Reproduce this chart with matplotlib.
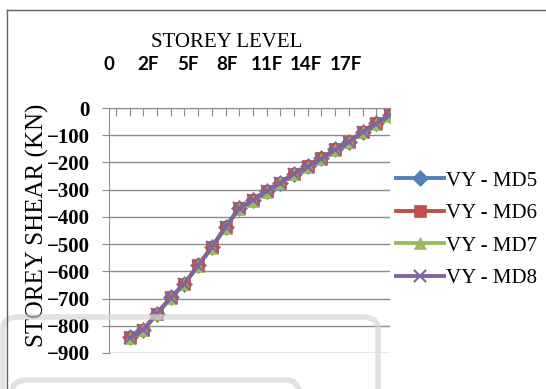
import numpy as np
import matplotlib.pyplot as plt
from matplotlib.patches import FancyBboxPatch
from matplotlib.lines import Line2D

# storey shear values (kN), one value per storey from base to roof
storeys = np.arange(1, 21)
vy_md5 = [-843, -814, -755, -696, -645, -578, -511, -437, -368, -338,
          -305, -275, -241, -214, -185, -152, -124, -87, -56, -26]
vy_md6 = [-843, -814, -755, -696, -645, -578, -511, -437, -368, -338,
          -305, -275, -241, -214, -185, -152, -124, -87, -56, -26]
vy_md7 = [-846, -816, -757, -698, -647, -580, -513, -439, -370, -340,
          -307, -277, -243, -216, -187, -154, -126, -89, -58, -28]
vy_md8 = [-844, -815, -756, -697, -646, -579, -512, -438, -369, -339,
          -306, -276, -242, -215, -186, -153, -125, -88, -57, -27]

level_labels = ["0", "2F", "5F", "8F", "11F", "14F", "17F"]
level_pos = np.arange(len(level_labels)) * 2.88 - 0.5

series = [
    ("VY - MD5", vy_md5, "#4F81BD", "D", 8),
    ("VY - MD6", vy_md6, "#C0504D", "s", 9),
    ("VY - MD7", vy_md7, "#9BBB59", "^", 9),
    ("VY - MD8", vy_md8, "#8064A2", "x", 8),
]

serif = "Liberation Serif"

fig = plt.figure(figsize=(5.46, 3.89), dpi=100)
ax = fig.add_axes([109 / 546, 1 - 353 / 389, 281 / 546, 245 / 389])

for name, vals, col, mk, ms in series:
    ax.plot(storeys, vals, color=col, lw=2.8, marker=mk, markersize=ms,
            markeredgewidth=1.5 if mk == "x" else 0.5, markeredgecolor=col,
            label=name)

ax.set_xlim(0, 20)
ax.set_ylim(-900, 0)
ax.set_yticks(np.arange(-900, 1, 100))
ax.yaxis.grid(True, color="#8c8c8c", lw=1)
ax.set_axisbelow(True)
for lab in ax.get_yticklabels():
    lab.set_fontfamily(serif)
    lab.set_fontweight("bold")
    lab.set_fontsize(15)
ax.tick_params(axis="y", direction="out", length=5, color="#8c8c8c", pad=9)

# category axis on top, tick marks hanging into the plot
ax.xaxis.tick_top()
ax.set_xticks(np.arange(0, 21))
ax.set_xticklabels([])
ax.tick_params(axis="x", which="major", direction="in", length=6, color="#8c8c8c")
ax.set_xticks(level_pos, minor=True)
ax.set_xticklabels(level_labels, minor=True, fontsize=13.5, fontweight="bold",
                   fontfamily="Lato")
ax.tick_params(axis="x", which="minor", length=0, pad=25)

for s in ["right", "bottom"]:
    ax.spines[s].set_visible(False)
ax.spines["left"].set_color("#8c8c8c")
ax.spines["top"].set_color("#8c8c8c")

ax.xaxis.set_label_position("top")
ax.set_xlabel("STOREY LEVEL", fontfamily=serif, fontsize=15)
ax.xaxis.set_label_coords(0.42, 1.25)
ax.set_ylabel("STOREY SHEAR (KN)", fontfamily=serif, fontsize=18)
ax.yaxis.set_label_coords(-0.215, 0.52)

fig.legend(loc="upper left", bbox_to_anchor=(396 / 546, 1 - 171 / 389),
           frameon=False, prop={"family": serif, "size": 15},
           handlelength=2.3, handletextpad=0.1, labelspacing=0.62,
           borderpad=0, borderaxespad=0)

# chart frame
fig.add_artist(Line2D([7 / 546, 7 / 546], [0, 1 - 10 / 389], color="#606060", lw=1))
fig.add_artist(Line2D([7 / 546, 1], [1 - 10 / 389, 1 - 10 / 389], color="#606060", lw=1))

# faint page outlines along the bottom
for x0, y0, w, h in [(3, 317, 375, 120), (12, 380, 292, 60)]:
    fig.add_artist(FancyBboxPatch((x0 / 546, 1 - (y0 + h) / 389), w / 546, h / 389,
                                  boxstyle="round,pad=0,rounding_size=0.03",
                                  transform=fig.transFigure, fill=False,
                                  edgecolor="#d6d6d6", lw=4, alpha=0.7))

fig.savefig("out.png", dpi=100)
